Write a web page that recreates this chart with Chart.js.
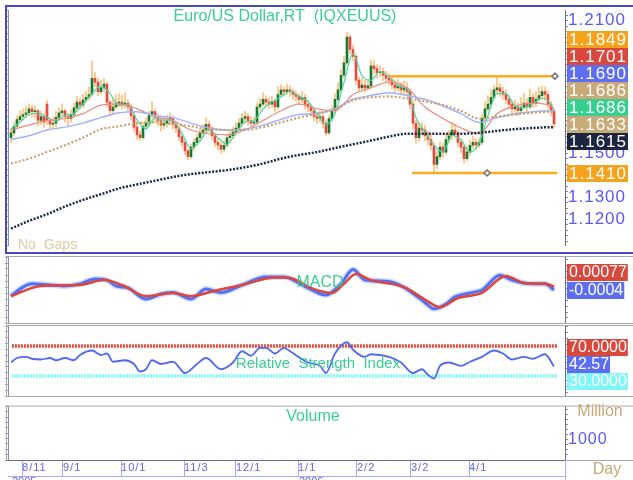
<!DOCTYPE html>
<html>
<head>
<meta charset="utf-8">
<title>Euro/US Dollar</title>
<script src="https://cdn.jsdelivr.net/npm/chart.js@4.4.1/dist/chart.umd.min.js"></script>
<style>
  html, body { margin: 0; padding: 0; background: #fff; }
  body { width: 633px; height: 480px; position: relative; overflow: hidden; }
  canvas { position: absolute; left: 0; }
</style>
</head>
<body>
<canvas id="priceChart" width="633" height="256" style="top:0"></canvas>
<canvas id="macdChart" width="633" height="70" style="top:255px"></canvas>
<canvas id="rsiChart" width="633" height="74" style="top:324px"></canvas>
<canvas id="volumeChart" width="633" height="83" style="top:397px"></canvas>
<script>
// Daily EUR/USD candles (bar index 0 = early Aug 2005)
const open = [
  1.1570,1.1592,1.1622,1.1652,1.1666,1.1675,1.1683,1.1701,1.1688,1.1692,
  1.1648,1.1666,1.1722,1.1648,1.1631,1.1636,1.1662,1.1683,1.1692,1.1666,
  1.1657,1.1675,1.1705,1.1731,1.1718,1.1740,1.1753,1.1766,1.1839,1.1822,
  1.1779,1.1796,1.1813,1.1731,1.1692,1.1709,1.1727,1.1731,1.1722,1.1727,
  1.1709,1.1670,1.1618,1.1583,1.1570,1.1622,1.1636,1.1670,1.1688,1.1662,
  1.1648,1.1627,1.1636,1.1648,1.1657,1.1631,1.1614,1.1575,1.1549,1.1510,
  1.1484,1.1527,1.1549,1.1570,1.1592,1.1605,1.1631,1.1614,1.1579,1.1549,
  1.1536,1.1518,1.1536,1.1570,1.1579,1.1596,1.1614,1.1636,1.1657,1.1666,
  1.1648,1.1636,1.1640,1.1709,1.1722,1.1744,1.1731,1.1722,1.1735,1.1709,
  1.1766,1.1787,1.1779,1.1787,1.1779,1.1766,1.1757,1.1744,1.1753,1.1722,
  1.1709,1.1692,1.1666,1.1657,1.1666,1.1636,1.1592,1.1657,1.1692,1.1744,
  1.1787,1.1853,1.1909,1.2026,1.1970,1.1939,1.1831,1.1796,1.1809,1.1796,
  1.1805,1.1896,1.1883,1.1865,1.1870,1.1853,1.1839,1.1831,1.1809,1.1796,
  1.1805,1.1787,1.1796,1.1779,1.1722,1.1636,1.1570,1.1614,1.1605,1.1579,
  1.1562,1.1536,1.1449,1.1484,1.1527,1.1505,1.1562,1.1579,1.1605,1.1592,
  1.1549,1.1527,1.1475,1.1505,1.1536,1.1549,1.1536,1.1549,1.1657,1.1701,
  1.1722,1.1753,1.1787,1.1796,1.1779,1.1766,1.1744,1.1722,1.1701,1.1709,
  1.1692,1.1709,1.1727,1.1709,1.1753,1.1727,1.1744,1.1761,1.1779,1.1766,
  1.1722,1.1692
];
const high = [
  1.1610,1.1640,1.1670,1.1692,1.1701,1.1712,1.1722,1.1718,1.1715,1.1700,
  1.1690,1.1680,1.1740,1.1660,1.1662,1.1690,1.1705,1.1722,1.1700,1.1680,
  1.1698,1.1727,1.1757,1.1750,1.1768,1.1780,1.1800,1.1918,1.1866,1.1840,
  1.1830,1.1840,1.1822,1.1740,1.1748,1.1766,1.1770,1.1762,1.1775,1.1740,
  1.1720,1.1683,1.1630,1.1600,1.1640,1.1660,1.1690,1.1735,1.1700,1.1680,
  1.1660,1.1662,1.1670,1.1683,1.1670,1.1640,1.1622,1.1588,1.1560,1.1520,
  1.1540,1.1566,1.1588,1.1610,1.1630,1.1660,1.1645,1.1622,1.1592,1.1566,
  1.1548,1.1557,1.1583,1.1600,1.1618,1.1640,1.1657,1.1680,1.1690,1.1680,
  1.1666,1.1662,1.1727,1.1748,1.1775,1.1761,1.1750,1.1757,1.1744,1.1800,
  1.1809,1.1800,1.1813,1.1805,1.1792,1.1780,1.1770,1.1779,1.1766,1.1740,
  1.1718,1.1700,1.1683,1.1692,1.1675,1.1648,1.1670,1.1715,1.1770,1.1820,
  1.1880,1.1940,1.2048,1.2035,1.1990,1.1950,1.1845,1.1840,1.1830,1.1835,
  1.1922,1.1922,1.1900,1.1896,1.1885,1.1870,1.1860,1.1850,1.1830,1.1833,
  1.1820,1.1826,1.1820,1.1790,1.1735,1.1650,1.1640,1.1640,1.1627,1.1600,
  1.1583,1.1550,1.1510,1.1550,1.1545,1.1588,1.1605,1.1640,1.1630,1.1605,
  1.1566,1.1540,1.1530,1.1560,1.1575,1.1566,1.1570,1.1675,1.1735,1.1760,
  1.1787,1.1809,1.1849,1.1815,1.1800,1.1785,1.1760,1.1735,1.1740,1.1727,
  1.1753,1.1770,1.1748,1.1790,1.1770,1.1780,1.1800,1.1805,1.1800,1.1780,
  1.1735,1.1700
];
const low = [
  1.1548,1.1580,1.1610,1.1640,1.1648,1.1660,1.1670,1.1662,1.1660,1.1625,
  1.1630,1.1618,1.1630,1.1610,1.1615,1.1620,1.1650,1.1670,1.1640,1.1625,
  1.1640,1.1662,1.1692,1.1700,1.1705,1.1727,1.1740,1.1757,1.1800,1.1760,
  1.1766,1.1779,1.1710,1.1670,1.1680,1.1700,1.1710,1.1700,1.1705,1.1690,
  1.1650,1.1600,1.1562,1.1555,1.1562,1.1610,1.1620,1.1660,1.1640,1.1625,
  1.1600,1.1610,1.1618,1.1630,1.1610,1.1592,1.1555,1.1530,1.1492,1.1470,
  1.1475,1.1510,1.1535,1.1555,1.1575,1.1592,1.1596,1.1560,1.1530,1.1515,
  1.1500,1.1505,1.1527,1.1550,1.1566,1.1583,1.1600,1.1622,1.1640,1.1627,
  1.1618,1.1620,1.1631,1.1695,1.1715,1.1712,1.1700,1.1705,1.1690,1.1700,
  1.1757,1.1760,1.1766,1.1757,1.1744,1.1735,1.1722,1.1727,1.1700,1.1688,
  1.1670,1.1645,1.1636,1.1640,1.1614,1.1579,1.1585,1.1645,1.1680,1.1735,
  1.1775,1.1840,1.1900,1.1950,1.1918,1.1810,1.1779,1.1787,1.1775,1.1785,
  1.1796,1.1860,1.1840,1.1845,1.1830,1.1820,1.1809,1.1790,1.1775,1.1780,
  1.1766,1.1770,1.1757,1.1700,1.1610,1.1545,1.1555,1.1585,1.1555,1.1536,
  1.1515,1.1410,1.1430,1.1470,1.1480,1.1495,1.1545,1.1562,1.1570,1.1527,
  1.1500,1.1455,1.1465,1.1490,1.1520,1.1515,1.1525,1.1540,1.1640,1.1690,
  1.1705,1.1740,1.1770,1.1757,1.1744,1.1722,1.1700,1.1680,1.1683,1.1670,
  1.1680,1.1700,1.1688,1.1700,1.1705,1.1710,1.1735,1.1744,1.1740,1.1700,
  1.1670,1.1615
];
const close = [
  1.1592,1.1622,1.1652,1.1666,1.1675,1.1683,1.1701,1.1688,1.1692,1.1648,
  1.1666,1.1640,1.1648,1.1631,1.1636,1.1662,1.1683,1.1692,1.1666,1.1657,
  1.1675,1.1705,1.1731,1.1718,1.1740,1.1753,1.1766,1.1839,1.1822,1.1779,
  1.1796,1.1813,1.1731,1.1692,1.1709,1.1727,1.1731,1.1722,1.1727,1.1709,
  1.1670,1.1618,1.1583,1.1570,1.1622,1.1636,1.1670,1.1688,1.1662,1.1648,
  1.1627,1.1636,1.1648,1.1657,1.1631,1.1614,1.1575,1.1549,1.1510,1.1484,
  1.1527,1.1549,1.1570,1.1592,1.1605,1.1631,1.1614,1.1579,1.1549,1.1536,
  1.1518,1.1536,1.1570,1.1579,1.1596,1.1614,1.1636,1.1657,1.1666,1.1648,
  1.1636,1.1640,1.1709,1.1722,1.1744,1.1731,1.1722,1.1735,1.1709,1.1766,
  1.1787,1.1779,1.1787,1.1779,1.1766,1.1757,1.1744,1.1753,1.1722,1.1709,
  1.1692,1.1666,1.1657,1.1666,1.1636,1.1592,1.1657,1.1692,1.1744,1.1787,
  1.1853,1.1909,1.2026,1.1970,1.1939,1.1831,1.1796,1.1809,1.1796,1.1805,
  1.1896,1.1883,1.1865,1.1870,1.1853,1.1839,1.1831,1.1809,1.1796,1.1805,
  1.1787,1.1796,1.1779,1.1722,1.1636,1.1570,1.1614,1.1605,1.1579,1.1562,
  1.1536,1.1449,1.1484,1.1527,1.1505,1.1562,1.1579,1.1605,1.1592,1.1549,
  1.1527,1.1475,1.1505,1.1536,1.1549,1.1536,1.1549,1.1657,1.1701,1.1722,
  1.1753,1.1787,1.1796,1.1779,1.1766,1.1744,1.1722,1.1701,1.1709,1.1692,
  1.1709,1.1727,1.1709,1.1753,1.1727,1.1744,1.1761,1.1779,1.1766,1.1722,
  1.1692,1.1633
];

const fastAt = [0,3,6,9,12,15,18,21,24,27,30,33,36,39,42,45,48,51,54,57,60,63,66,69,72,75,78,81,84,87,
  90,93,96,99,102,105,108,111,114,117,120,123,126,129,132,135,138,141,144,147,150,153,156,159,162,165,168,171,174,177,180,181];
const maFast = [
  1.1610,1.1640,1.1675,1.1680,1.1662,1.1645,1.1672,1.1680,1.1722,1.1770,
  1.1805,1.1770,1.1716,1.1722,1.1650,1.1610,1.1660,1.1650,1.1645,1.1590,
  1.1520,1.1555,1.1605,1.1570,1.1540,1.1590,1.1640,1.1648,1.1700,1.1732,
  1.1755,1.1780,1.1758,1.1735,1.1680,1.1630,1.1680,1.1820,1.1950,1.1850,
  1.1830,1.1870,1.1845,1.1805,1.1790,1.1660,1.1595,1.1535,1.1505,1.1580,
  1.1560,1.1505,1.1545,1.1670,1.1770,1.1770,1.1715,1.1705,1.1725,1.1750,
  1.1720,1.1686
];
const maAt = [0,6,12,18,24,30,36,42,48,54,60,66,72,78,84,90,96,102,108,114,120,126,132,138,144,150,156,162,168,174,180,181];
const maRed = [1.1605,1.1627,1.1648,1.1657,1.1679,1.1718,1.1722,1.1701,1.1666,1.1648,1.1605,1.1588,1.1583,1.1605,1.1648,1.1692,
  1.1722,1.1701,1.1692,1.1766,1.1796,1.1822,1.1796,1.1709,1.1657,1.1614,1.1588,1.1679,1.1714,1.1727,1.1714,1.1701];
const maBlue = [1.1562,1.1579,1.1605,1.1618,1.1636,1.1661,1.1683,1.1688,1.1670,1.1661,1.1636,1.1614,1.1605,1.1609,1.1627,1.1653,
  1.1675,1.1679,1.1701,1.1744,1.1761,1.1774,1.1761,1.1744,1.1714,1.1679,1.1640,1.1661,1.1679,1.1688,1.1692,1.1690];
const maTan = [1.1453,1.1475,1.1505,1.1536,1.1570,1.1609,1.1622,1.1636,1.1640,1.1631,1.1622,1.1609,1.1605,1.1605,1.1618,1.1640,
  1.1661,1.1679,1.1701,1.1740,1.1753,1.1757,1.1748,1.1735,1.1718,1.1692,1.1657,1.1666,1.1675,1.1683,1.1688,1.1686];
const ma200 = [1.1158,1.1193,1.1223,1.1258,1.1288,1.1314,1.1340,1.1358,1.1375,1.1392,1.1405,1.1414,1.1423,1.1436,1.1453,1.1475,
  1.1492,1.1505,1.1523,1.1540,1.1557,1.1575,1.1588,1.1588,1.1588,1.1588,1.1592,1.1601,1.1609,1.1614,1.1618,1.1615];

// drawn resistance / support lines
const levels = [1.1849, 1.1410];
const levelFrom = [125.7, 133.7];
const levelTo = [181.3, 182];
const levelHandle = [181.3, 158.7];

const priceTicks = [1.21, 1.15, 1.13, 1.12];
const priceFlags = [1.1849, 1.1701, 1.1690, 1.1686, 1.1686, 1.1633, 1.1615, 1.1410];

// MACD panel
const macdAt = [0,4,7,13,18,23,28,32,35,39,45,50,54,60,65,70,77,85,91,99,105,110,114,118,126,132,138,141,145,148,153,157,163,167,174,178,181];
const macd = [-0.0025,0.0006,0.0017,0.0013,0.0010,0.0017,0.0034,0.0030,0.0010,0.0003,-0.0035,-0.0018,-0.0013,-0.0035,-0.0001,-0.0013,
  0.0013,0.0041,0.0041,0.0003,-0.0021,0.0017,0.0066,0.0030,0.0025,-0.0001,-0.0047,-0.0069,-0.0052,-0.0028,-0.0014,-0.0004,
  0.0047,0.0030,0.0017,0.0017,-0.0004];
const signalAt = [0,10,23,31,37,45,54,60,69,77,88,92,101,107,111,115,120,131,138,143,149,157,165,171,178,181];
const signal = [-0.0025,0.0010,0.0013,0.0030,0.0013,-0.0025,-0.0014,-0.0025,-0.0004,0.0013,0.0039,0.0039,-0.0001,-0.0014,0.0017,
  0.0051,0.0030,0.0006,-0.0037,-0.0063,-0.0032,-0.0014,0.0044,0.0020,0.0017,0.00077];
const macdFlags = ['0.00077', '-0.0004'];

// RSI panel
const rsiAt = [0,2,5,7,10,13,15,18,21,23,27,30,32,34,38,41,43,45,47,50,54,58,62,65,70,74,77,80,83,85,88,91,93,99,103,105,108,
  112,114,118,120,126,130,134,137,139,141,143,146,150,153,157,161,164,167,171,174,178,181];
const rsi = [48.3,54,55.5,53,52,54,51,54,51,58,64,58,60,49,51,46,36,39,51,46,49,34,46,54,39,48,63,57,67.6,67.6,60,67.6,63,48,43.5,
  34,60,75,65,55.5,59,55.5,48,34,39,31.5,26.6,43.5,48,43.5,49,55.5,64,60,52,55.5,53,59,42.57];
const rsiLevels = [70, 30];
const rsiFlags = ['70.0000', '42.57', '30.0000'];

// Volume panel + date axis
const volumeTicks = [1000];
const dateAt = [3.67, 17.33, 36.67, 57.67, 75, 95.67, 115.33, 133.33, 152.67];
const dateLabels = ['8/11', '9/1', '10/1', '11/3', '12/1', '1/1', '2/2', '3/2', '4/1'];
const yearAt = [0, 95.67];
const yearLabels = ['2005', '2006'];

// ---------- layout & styling ----------
const FONT = '"Liberation Sans", Arial, sans-serif';
const X_MIN = -1;
const X_MAX = 184.67;
const RIGHT_W = 68;
const GREEN_TEXT = '#3bcf93';
const TAN = '#c8aa78';

Chart.defaults.font.family = FONT;

function series(at, values) {
  return at.map((x, k) => ({ x: x, y: values[k] }));
}

function lineSet(data, color, width, extra) {
  return Object.assign({
    type: 'line', data: data, borderColor: color, borderWidth: width,
    pointRadius: 0, fill: false, cubicInterpolationMode: 'monotone', order: 1
  }, extra || {});
}

function hiddenX() {
  return { type: 'linear', min: X_MIN, max: X_MAX, display: false, offset: false };
}

function rightAxis(min, max, step, ticks) {
  return {
    position: 'right', min: min, max: max,
    afterFit: s => { s.width = RIGHT_W; },
    afterBuildTicks: s => {
      const t = [];
      for (let v = Math.ceil(min / step) * step; v <= max; v += step) t.push({ value: v });
      s.ticks = t;
    },
    border: { color: '#6e6e80' },
    grid: { drawOnChartArea: false, tickLength: 3, color: '#8c8ca0' },
    ticks: ticks || { display: false }
  };
}

function leftAxis(count) {
  return {
    position: 'left', min: 0, max: count,
    afterFit: s => { s.width = 3; },
    border: { color: '#8c8ca0' },
    grid: { drawOnChartArea: false, tickLength: 3, color: '#a4a4b4' },
    ticks: { display: false, stepSize: 1 }
  };
}

function baseOptions(top, bottom, scales) {
  return {
    responsive: false,
    animation: false,
    events: [],
    layout: { padding: { left: 5, right: 0, top: top, bottom: bottom } },
    plugins: { legend: { display: false }, tooltip: { enabled: false } },
    scales: scales
  };
}

const spacing = {
  id: 'spacing',
  beforeDraw(chart) { chart.ctx.letterSpacing = '1px'; }
};

function drawFlags(chart, flags, size, gap) {
  const ctx = chart.ctx;
  const x0 = chart.chartArea.right + 2;
  ctx.save();
  ctx.font = size + 'px ' + FONT;
  ctx.letterSpacing = gap + 'px';
  ctx.textBaseline = 'middle';
  ctx.textAlign = 'left';
  flags.forEach(f => {
    const y = f.y != null ? f.y : chart.scales.y.getPixelForValue(f.value);
    const w = ctx.measureText(f.text).width + 3;
    ctx.fillStyle = f.bg;
    ctx.fillRect(x0, Math.round(y - 8.5), w, 17);
    ctx.fillStyle = f.fg || '#fff';
    ctx.fillText(f.text, x0 + 2, y + 1);
  });
  ctx.restore();
}

function drawText(ctx, text, x, y, color, size, align) {
  ctx.save();
  ctx.letterSpacing = '0px';
  ctx.font = size + 'px ' + FONT;
  ctx.fillStyle = color;
  ctx.textAlign = align || 'center';
  ctx.textBaseline = 'middle';
  ctx.fillText(text, x, y);
  ctx.restore();
}

function grayFrame(chart) {
  const ctx = chart.ctx;
  const a = chart.chartArea;
  ctx.save();
  ctx.fillStyle = '#a8a8b2';
  ctx.fillRect(6, a.top - 1, 627, 1);
  ctx.fillRect(6, a.bottom, 627, 1);
  ctx.fillRect(6, a.top - 1, 1, a.bottom - a.top + 2);
  ctx.restore();
}

// ---------- price panel ----------
const priceLook = [
  { bg: '#f7a21b', y: 39.5 },
  { bg: '#d8483d', y: 56.5 },
  { bg: '#5d6ef2', y: 73.5 },
  { bg: TAN, y: 90.5 },
  { bg: '#37cf8f', y: 107.5 },
  { bg: TAN, y: 124.5 },
  { bg: '#1b2540', y: 141.5 },
  { bg: '#f7a21b', y: null }
];

const pricePanel = {
  id: 'pricePanel',
  afterDraw(chart) {
    const ctx = chart.ctx;
    ctx.save();
    ctx.fillStyle = '#4a4ab8';
    ctx.fillRect(5, 5, 628, 2);
    ctx.fillRect(5, 5, 2, 249);
    ctx.fillRect(5, 252, 628, 2);
    ctx.restore();
    drawText(ctx, 'Euro/US Dollar,RT  (IQXEUUS)', 285, 17, GREEN_TEXT, 16);
    drawText(ctx, 'No  Gaps', 18, 245, '#dccca6', 14, 'left');
    drawFlags(chart, priceFlags.map((v, k) => Object.assign({ value: v, text: v.toFixed(4) }, priceLook[k])), 17, 1);
  }
};

new Chart(document.getElementById('priceChart'), {
  type: 'bar',
  data: {
    datasets: [
      {
        type: 'bar', data: close.map((c, i) => ({ x: i, y: [low[i], high[i]] })),
        backgroundColor: '#fcc27a', barThickness: 1, grouped: false, order: 5
      },
      {
        type: 'bar', data: close.map((c, i) => ({ x: i, y: [open[i], c] })),
        backgroundColor: close.map((c, i) => c >= open[i] ? '#17792f' : '#ec4642'),
        barThickness: 2, grouped: false, minBarLength: 1, order: 4
      },
      lineSet(series(maAt, ma200), '#1d2947', 2.5, { borderDash: [2, 1.5] }),
      lineSet(series(maAt, maTan), '#c4a46e', 2.2, { borderDash: [2, 2] }),
      lineSet(series(maAt, maBlue), '#a3b1ff', 1.5),
      lineSet(series(maAt, maRed), '#e98c82', 1.2),
      lineSet(series(fastAt, maFast), '#48d9a4', 1.2),
      lineSet([{ x: levelFrom[0], y: levels[0] }, { x: levelTo[0], y: levels[0] }], '#ffab1c', 2.5, { cubicInterpolationMode: 'default' }),
      lineSet([{ x: levelFrom[1], y: levels[1] }, { x: levelTo[1], y: levels[1] }], '#ffab1c', 2.5, { cubicInterpolationMode: 'default' }),
      {
        type: 'line', showLine: false, data: levelHandle.map((x, k) => ({ x: x, y: levels[k] })),
        pointStyle: 'rectRot', pointRadius: 3, pointBackgroundColor: '#ffffff',
        pointBorderColor: '#707070', pointBorderWidth: 1.5, order: 0
      }
    ]
  },
  options: baseOptions(7, 3, {
    x: hiddenX(),
    y: rightAxis(1.1080, 1.2148, 0.0025, {
      autoSkip: false, padding: 0, color: '#5a5af2', font: { size: 17 },
      callback: v => {
        const s = v.toFixed(4);
        return priceTicks.some(t => t.toFixed(4) === s) ? s : '';
      }
    }),
    yl: leftAxis(40)
  }),
  plugins: [spacing, pricePanel]
});

// ---------- MACD panel ----------
const macdPanel = {
  id: 'macdPanel',
  afterDraw(chart) {
    grayFrame(chart);
    drawText(chart.ctx, 'MACD', 320, 28, GREEN_TEXT, 16);
    drawFlags(chart, [
      { text: macdFlags[0], bg: '#d8483d', y: 17 },
      { text: macdFlags[1], bg: '#5d6ef2', y: 35 }
    ], 16, 0);
  }
};

new Chart(document.getElementById('macdChart'), {
  type: 'line',
  data: {
    datasets: [
      lineSet(series(macdAt, macd), 'rgba(120,150,255,0.35)', 6, { order: 3 }),
      lineSet(series(macdAt, macd), '#5272f4', 3, { order: 2 }),
      lineSet(series(signalAt, signal), '#e0443a', 2.5, { order: 1 })
    ]
  },
  options: baseOptions(2, 2, {
    x: hiddenX(),
    y: rightAxis(-0.01176, 0.01094, 0.002),
    yl: leftAxis(11)
  }),
  plugins: [spacing, macdPanel]
});

// ---------- RSI panel ----------
const rsiPanel = {
  id: 'rsiPanel',
  afterDraw(chart) {
    grayFrame(chart);
    drawText(chart.ctx, 'Relative  Strength  Index', 318, 40, GREEN_TEXT, 15);
    drawFlags(chart, [
      { text: rsiFlags[0], bg: '#d8483d', y: 23 },
      { text: rsiFlags[1], bg: '#5d6ef2', y: 40 },
      { text: rsiFlags[2], bg: '#7ff7fa', y: 57 }
    ], 16, 0);
  }
};

new Chart(document.getElementById('rsiChart'), {
  type: 'line',
  data: {
    datasets: [
      lineSet([{ x: 0.3, y: rsiLevels[0] }, { x: 182.3, y: rsiLevels[0] }], '#e54a3e', 3.5, { borderDash: [2, 1], order: 3 }),
      lineSet([{ x: 0.3, y: rsiLevels[1] }, { x: 182.3, y: rsiLevels[1] }], '#82f6f8', 3.5, { borderDash: [2, 1], order: 3 }),
      lineSet(series(rsiAt, rsi), '#4f6af0', 1.8, { order: 1 })
    ]
  },
  options: baseOptions(2, 2, {
    x: hiddenX(),
    y: rightAxis(3.3, 96.7, 8),
    yl: leftAxis(12)
  }),
  plugins: [spacing, rsiPanel]
});

// ---------- Volume panel + dates ----------
const volumePanel = {
  id: 'volumePanel',
  afterDraw(chart) {
    const ctx = chart.ctx;
    const a = chart.chartArea;
    const xs = chart.scales.x;
    grayFrame(chart);
    ctx.save();
    ctx.fillStyle = '#6e6e80';
    ctx.fillRect(6, a.bottom, a.right - 6, 1);
    ctx.fillStyle = '#aaaaf0';
    ctx.fillRect(a.left, 79, a.right - a.left, 1);
    ctx.fillRect(a.right, a.bottom, 1, 20);
    ctx.restore();
    yearLabels.forEach((t, k) => {
      drawText(ctx, t, xs.getPixelForValue(yearAt[k]) + 1, 85, '#6666e6', 11, 'left');
    });
    drawText(ctx, 'Volume', 313, 20, GREEN_TEXT, 16);
    drawText(ctx, 'Million', 600, 15, TAN, 16);
    drawText(ctx, 'Day', 607, 73, TAN, 16);
  }
};

new Chart(document.getElementById('volumeChart'), {
  type: 'line',
  data: { datasets: [] },
  options: baseOptions(2, 0, {
    x: {
      type: 'linear', min: X_MIN, max: X_MAX, position: 'bottom', offset: false,
      afterFit: s => { s.height = 20; },
      afterBuildTicks: s => { s.ticks = dateAt.map(v => ({ value: v })); },
      border: { color: '#6e6e80' },
      grid: { drawOnChartArea: false, tickLength: 16, color: '#aaaaf0' },
      ticks: {
        autoSkip: false, maxRotation: 0, minRotation: 0, align: 'start', padding: -15,
        font: { size: 11 }, color: '#6666e6',
        callback: (v, k) => dateLabels[k]
      }
    },
    y: rightAxis(0, 2650, 250, {
      autoSkip: false, padding: 0, color: '#5a5af2', font: { size: 16 },
      callback: v => volumeTicks.includes(Math.round(v)) ? String(Math.round(v)) : ''
    }),
    yl: leftAxis(10)
  }),
  plugins: [spacing, volumePanel]
});
</script>
</body>
</html>
